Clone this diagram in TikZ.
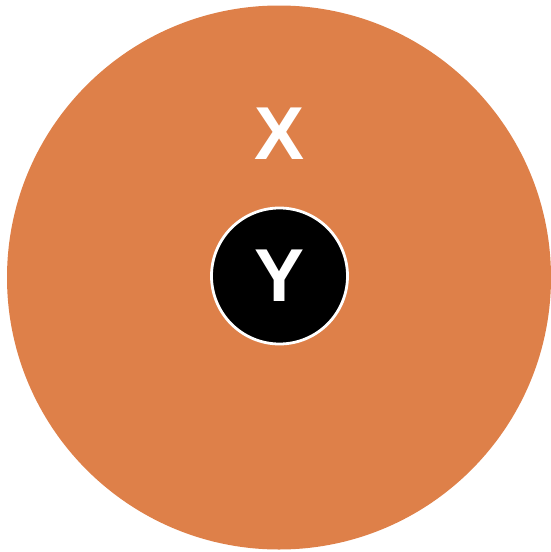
\documentclass[tikz,border=0pt]{standalone}
\usepackage{fontspec}
\setmainfont{Liberation Sans}
\definecolor{outerorange}{RGB}{222,128,73}
\begin{document}
\begin{tikzpicture}[x=1pt,y=-1pt,
  lbl/.style={text=white,font=\fontsize{75}{75}\selectfont\bfseries,inner sep=0pt,anchor=center}]
\useasboundingbox (0,0) rectangle (550,552);
\node[circle,fill=outerorange,minimum size=544pt,inner sep=0pt] (outer) at (279,277.5) {};
\node[lbl] (x) at (279.5,133.5) {X};
\node[circle,fill=black,draw=white,line width=2.8pt,minimum size=136pt,inner sep=0pt] (inner) at (279.5,276) {};
\node[lbl] (y) at (279.5,276) {Y};
\end{tikzpicture}
\end{document}
